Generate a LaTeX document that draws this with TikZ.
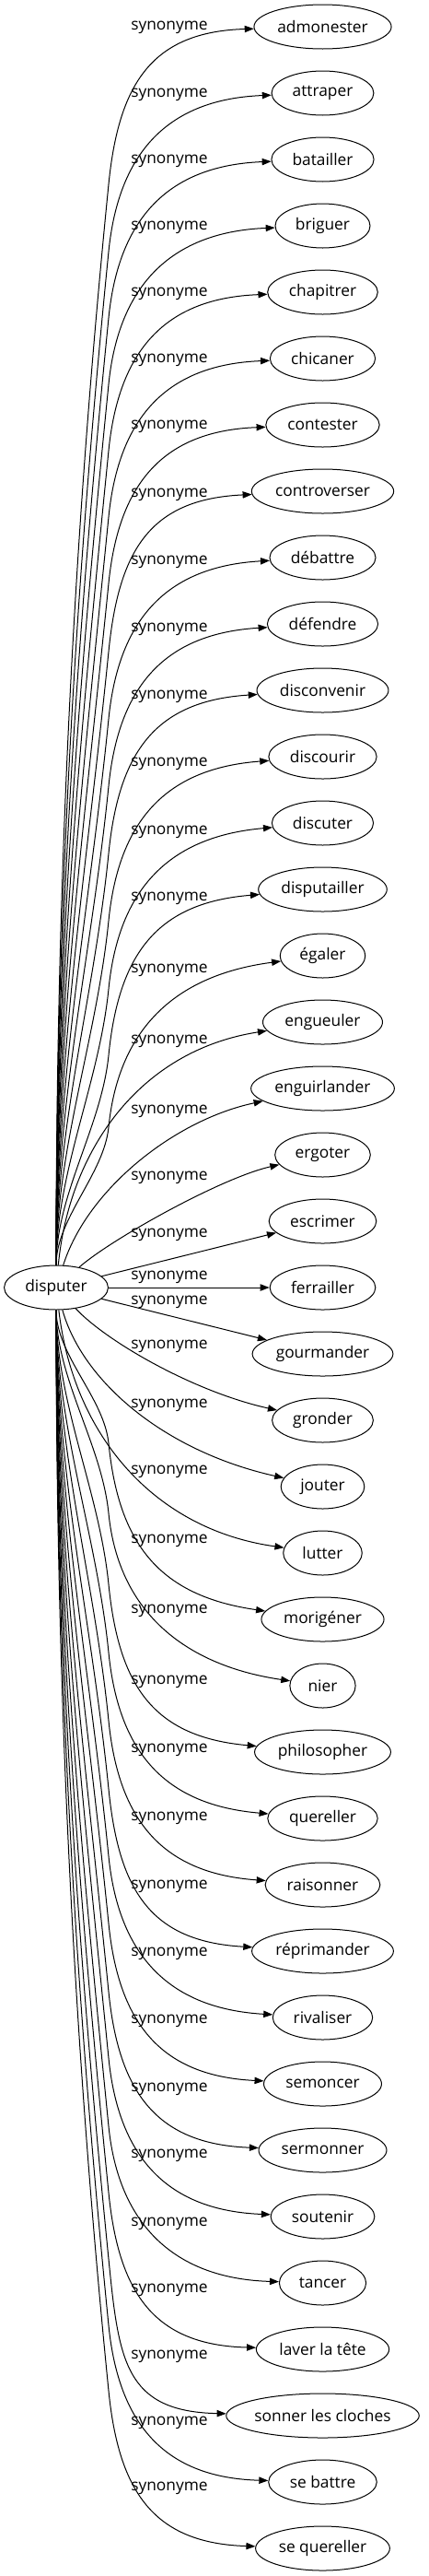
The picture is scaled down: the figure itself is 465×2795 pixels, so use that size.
\documentclass[tikz,border=0pt]{standalone}
\usepackage{fontspec}
\setmainfont{Open Sans}
\usepackage{tikz}
\usetikzlibrary{arrows.meta, calc, shapes.geometric}

\begin{document}
\fontsize{13pt}{15pt}\selectfont
\begin{tikzpicture}[
    x=0.75pt, y=-0.75pt,
    syn/.style={draw, ellipse, line width=0.75pt, inner sep=0pt, minimum height=36pt},
    lbl/.style={anchor=west, inner sep=0pt},
    edge/.style={-{Triangle[length=7.5pt, width=5.5pt]}, line width=0.75pt}
]
  \useasboundingbox (0,0) rectangle (465,2795);

  % Source word
  \node[syn, minimum width={1.17*width("disputer")+25.5pt}] (src) at (61,1397) {disputer};

  % Synonyms, labels and the long edges
  \foreach \name/\yl [count=\i from 0] in {admonester/30, attraper/103, batailler/175, briguer/247,
      chapitrer/319, chicaner/391, contester/463, controverser/537, débattre/610, défendre/683,
      disconvenir/756, discourir/829, discuter/903, disputailler/975, égaler/1053, engueuler/1130,
      enguirlander/1206, ergoter/1278, escrimer/1340, ferrailler/1386, gourmander/1413, gronder/1461,
      jouter/1525, lutter/1597, morigéner/1672, nier/1748, philosopher/1825, quereller/1899,
      raisonner/1973, réprimander/2047, rivaliser/2120, semoncer/2193, sermonner/2267, soutenir/2339,
      tancer/2413, laver la tête/2485, sonner les cloches/2557, se battre/2629, se quereller/2700} {
    \node[syn, minimum width={1.17*width("\name")+25.5pt}] (t\i) at (350.5, 29+72*\i) {\name};
    \node[lbl] (l\i) at (142,\yl) {synonyme};
    \ifnum\i<15
      \pgfmathsetmacro\yo{\yl+170}
      \pgfmathsetmacro\k{0.34*(1373-\yo)}
      \draw[edge] (src) .. controls (61,1373-\k) and (118-0.1*\k,\yo+\k) .. (118,\yo)
        .. controls (129,\yl+60) and ($(t\i.west)+(-110,\yl+4.5-29-72*\i)$) .. (t\i);
    \fi
    \ifnum\i>23
      \pgfmathsetmacro\yo{\yl-106}
      \pgfmathsetmacro\k{0.34*(\yo-1421)}
      \draw[edge] (src) .. controls (61,1421+\k) and (118-0.1*\k,\yo-\k) .. (118,\yo)
        .. controls (129,\yl+4) and ($(t\i.west)+(-110,\yl+59.5-29-72*\i)$) .. (t\i);
    \fi
  }

  % Short edges near the middle
  \draw[edge] (src) .. controls (75,1250) and (150,1140) .. (t15);
  \draw[edge] (src) .. controls (95,1290) and (190,1215) .. (t16);
  \draw[edge] (src) .. controls (120,1345) and (240,1278) .. (t17);
  \draw[edge] (src) -- (t18);
  \draw[edge] (src) -- (t19);
  \draw[edge] (src) -- (t20);
  \draw[edge] (src) .. controls (115,1455) and (210,1510) .. (t21);
  \draw[edge] (src) .. controls (90,1500) and (180,1575) .. (t22);
  \draw[edge] (src) .. controls (80,1560) and (170,1660) .. (t23);
\end{tikzpicture}
\end{document}
